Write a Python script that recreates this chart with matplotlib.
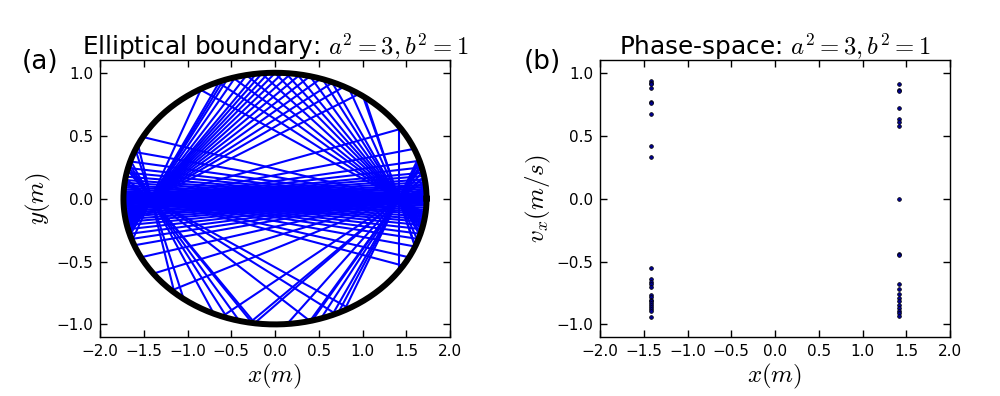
import numpy as np
import matplotlib
matplotlib.use("Agg")
import matplotlib.pyplot as plt

plt.rcParams['font.family'] = ['DejaVu Sans']
plt.rcParams['mathtext.fontset'] = 'cm'

# ---- data ----
a2 = 3.0
b2 = 1.0
focus_x = [-np.sqrt(2.0), np.sqrt(2.0)]

# chord angles (deg, line angle) through the left / right focus
chord_deg_left = [56.8, 50.0, 48.8, 47.5, 45.1, 39.6, 38.2, 36.7, 35.2, 33.6,
                  31.9, 30.1, 28.2, 26.2, 19.3, 42.0, 24.0, 22.0,
                  -21.1, -23.5, -28.2, -39.9, -40.6, -47.5, -65.1, -70.5,
                  -44.0, -52.0,
                  11.0, 7.5, 5.6, 4.6, 3.8, 3.3, 2.8, 2.4, 2.0, 1.7, 1.4,
                  1.1, 0.8, 0.6, 0.4, 0.2, 0.0, -0.2, -0.4, -0.6, -0.8,
                  -1.0, -1.3, -1.6, -1.9, -2.2, -2.6, -3.0, -3.4, -3.9,
                  -4.5, -5.2, -6.0, -7.2, -9.0, -10.5]
chord_deg_right = [-64.1, -63.3, -47.5, -43.8, -40.4, -37.7, -35.2, -32.4,
                   -29.4, -26.9, -24.1, -20.9, -50.5, -57.0,
                   24.9, 30.1, 31.0, 43.8, 44.4, 50.6, 52.7, 55.0, 90.0,
                   38.0, 47.0,
                   15.7, 12.0, 9.0, 7.0, 6.0, 5.2, 4.5, 3.9, 3.4, 3.0, 2.6,
                   2.3, 2.0, 1.7, 1.4, 1.2, 1.0, 0.8, 0.6, 0.4, 0.2, 0.0,
                   -0.2, -0.4, -0.6, -0.8, -1.0, -1.3, -1.6, -1.9, -2.3,
                   -2.7, -3.2, -3.8, -4.5, -5.5, -7.0, -9.5]

# phase-space points: v_x at the foci
vx_left = [0.933, 0.917, 0.911, 0.881, 0.767, 0.759, 0.675, 0.421, 0.333,
           -0.548, -0.643, -0.659, -0.675, -0.706, -0.770, -0.786, -0.802,
           -0.817, -0.833, -0.849, -0.865, -0.881, -0.897, -0.944]
vx_right = [0.907, 0.865, 0.857, 0.722, 0.635, 0.606, 0.574, -0.003,
            -0.437, -0.450, -0.675, -0.722, -0.762, -0.791, -0.817, -0.844,
            -0.871, -0.892, -0.913, -0.934]

xticks = [-2.0, -1.5, -1.0, -0.5, 0.0, 0.5, 1.0, 1.5, 2.0]
yticks = [-1.0, -0.5, 0.0, 0.5, 1.0]


def chord(fx, deg):
    th = np.deg2rad(deg)
    c, s = np.cos(th), np.sin(th)
    A = c * c / a2 + s * s / b2
    B = 2 * fx * c / a2
    C = fx * fx / a2 - 1
    d = np.sqrt(B * B - 4 * A * C)
    t = np.array([(-B - d) / (2 * A), (-B + d) / (2 * A)])
    return fx + t * c, t * s


fig = plt.figure(figsize=(10, 3.96), dpi=100)
fig.patch.set_facecolor('white')
ax1 = fig.add_axes([0.100, 0.149, 0.350, 0.699])
ax2 = fig.add_axes([0.600, 0.149, 0.350, 0.699])

for fx, degs in ((focus_x[0], chord_deg_left), (focus_x[1], chord_deg_right)):
    for d in degs:
        xs, ys = chord(fx, d)
        ax1.plot(xs, ys, color='b', lw=1.5, zorder=2)

tt = np.linspace(0, 2 * np.pi, 400)
ax1.plot(np.sqrt(a2) * np.cos(tt), np.sqrt(b2) * np.sin(tt), color='k', lw=4.3, zorder=3)

ax2.plot([focus_x[0]] * len(vx_left), vx_left, 'o', ms=2.7, mfc='#000090',
         mec='k', mew=0.5, ls='none')
ax2.plot([focus_x[1]] * len(vx_right), vx_right, 'o', ms=2.7, mfc='#000090',
         mec='k', mew=0.5, ls='none')

for ax in (ax1, ax2):
    ax.set_xlim(-2, 2)
    ax.set_ylim(-1.1, 1.1)
    ax.set_xticks(xticks)
    ax.set_yticks(yticks)
    ax.tick_params(direction='in', length=5, width=1, top=True, right=True,
                   labelsize=11, pad=5)
    for sp in ax.spines.values():
        sp.set_linewidth(1.0)
        sp.set_color('k')
    ax.set_xlabel(r'$x(m)$', fontsize=18, labelpad=2)

ax1.set_ylabel(r'$y(m)$', fontsize=18, labelpad=2)
ax2.set_ylabel(r'$v_x(m/s)$', fontsize=18, labelpad=2)
ax1.set_title(r'Elliptical boundary: $a^2=3, b^2=1$', fontsize=17.8, pad=4)
ax2.set_title(r'Phase-space: $a^2=3, b^2=1$', fontsize=17.8, pad=4)

fig.text(0.022, 0.827, '(a)', fontsize=19)
fig.text(0.524, 0.827, '(b)', fontsize=19)

fig.savefig('out.png', dpi=100, facecolor='white')
